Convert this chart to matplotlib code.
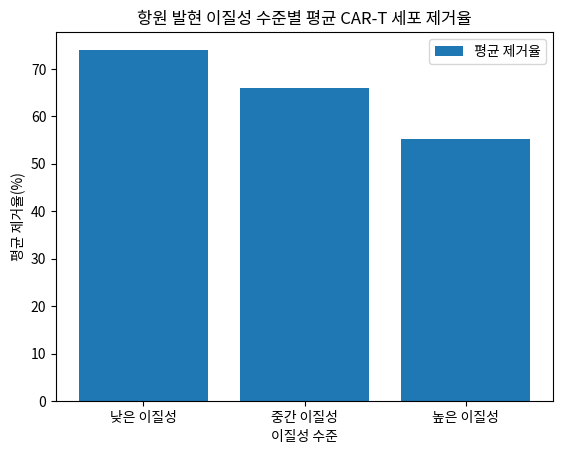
import matplotlib
matplotlib.use('Agg')
import matplotlib.pyplot as plt

plt.rcParams['font.family'] = ['Noto Sans CJK KR', 'DejaVu Sans']

# 이질성 수준별 평균 제거율
수준 = ['낮은 이질성', '중간 이질성', '높은 이질성']
제거율 = [74.1, 65.9, 55.3]

fig = plt.figure(figsize=(5.61, 4.54), dpi=100)
ax = fig.add_axes([0.0998, 0.1167, 0.886, 0.8128])

ax.bar(수준, 제거율, color='#1f77b4', label='평균 제거율')
ax.set_title('항원 발현 이질성 수준별 평균 CAR-T 세포 제거율')
ax.set_xlabel('이질성 수준')
ax.set_ylabel('평균 제거율(%)')
ax.legend(loc='upper right')

fig.savefig('out.png', dpi=100)
